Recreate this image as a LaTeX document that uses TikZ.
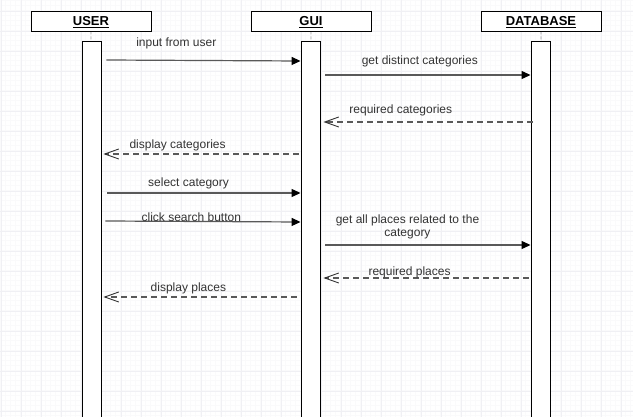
\documentclass[tikz,border=0pt]{standalone}
\usepackage{fontspec}
\setmainfont{Liberation Sans}
\usetikzlibrary{arrows.meta}

\tikzset{
    head/.style={draw, fill=white, line width=0.9pt, minimum width=120, minimum height=20, inner sep=0pt, text height=9.4pt, text depth=0pt, font=\fontsize{13}{15}\selectfont\bfseries},
    bar/.style={draw, fill=white, line width=0.9pt, minimum width=19, minimum height=385, anchor=north, inner sep=0pt},
    msg/.style={draw=black!65, line width=1.2pt, -{Triangle[length=9pt,width=8pt,color=black]}},
    reply/.style={draw=black!65, line width=1.2pt, dash pattern=on 6pt off 4pt, -{Straight Barb[length=14pt,width=10pt,color=black!80,line width=0.9pt]}},
    lbl/.style={text=black!80, font=\fontsize{12}{13}\selectfont, inner sep=0pt, align=center}
}

\begin{document}
\begin{tikzpicture}[x=1pt, y=-1pt]
    \useasboundingbox (0,0) rectangle (633,417);
    \fill[white] (0,0) rectangle (633,417);
    % background grid
    \draw[color=blue!20!black!2, line width=0.3pt] (0,420) grid[step=5pt] (633,0);
    \draw[color=blue!25!black!6, line width=0.5pt, shift={(1,11)}] (-21,426) grid[step=20pt] (652,-31);

    % lifelines
    \node[head] (user) at (91,21) {\underline{USER}};
    \node[head] (gui) at (311,21) {\underline{GUI}};
    \node[head] (db) at (541,21) {\underline{DATABASE}};
    \node[bar] (ubar) at (91.5,41) {};
    \node[bar] (gbar) at (310.5,41) {};
    \node[bar] (dbar) at (540.5,41) {};
    \draw[dash pattern=on 3pt off 2pt] (user) -- (ubar);
    \draw[dash pattern=on 3pt off 2pt] (gui) -- (gbar);
    \draw[dash pattern=on 3pt off 2pt] (db) -- (dbar);

    % messages
    \draw[msg] ([xshift=5pt]ubar.east |- 0,60) -- (gbar.west |- 0,61)
        node[lbl, pos=.36, yshift=16.5] (m1) {input from user};
    \draw[msg] ([xshift=5pt]gbar.east |- 0,75) -- (dbar.west |- 0,75)
        node[lbl, pos=.46, yshift=14] (m2) {get distinct categories};
    \draw[reply] ([xshift=2pt]dbar.west |- 0,122) -- ([xshift=3pt]gbar.east |- 0,122)
        node[lbl, pos=.63, yshift=12] (m3) {required categories};
    \draw[reply] ([xshift=-2pt]gbar.west |- 0,154) -- ([xshift=2pt]ubar.east |- 0,154)
        node[lbl, pos=.62, yshift=9] (m4) {display categories};
    \draw[msg] ([xshift=6pt]ubar.east |- 0,193) -- (gbar.west |- 0,193)
        node[lbl, pos=.42, yshift=10] (m5) {select category};
    \draw[msg] ([xshift=4pt]ubar.east |- 0,221) -- (gbar.west |- 0,222)
        node[lbl, pos=.44, yshift=4.5] (m6) {click search button};
    \draw[msg] ([xshift=5pt]gbar.east |- 0,245) -- (dbar.west |- 0,245)
        node[lbl, pos=.40, yshift=18] (m7) {get all places related to the\\category};
    \draw[reply] ([xshift=-2pt]dbar.west |- 0,278) -- ([xshift=3pt]gbar.east |- 0,278)
        node[lbl, pos=.58, yshift=6] (m8) {required places};
    \draw[reply] ([xshift=-4pt]gbar.west |- 0,297) -- ([xshift=2pt]ubar.east |- 0,297)
        node[lbl, pos=.56, yshift=9] (m9) {display places};
\end{tikzpicture}
\end{document}
